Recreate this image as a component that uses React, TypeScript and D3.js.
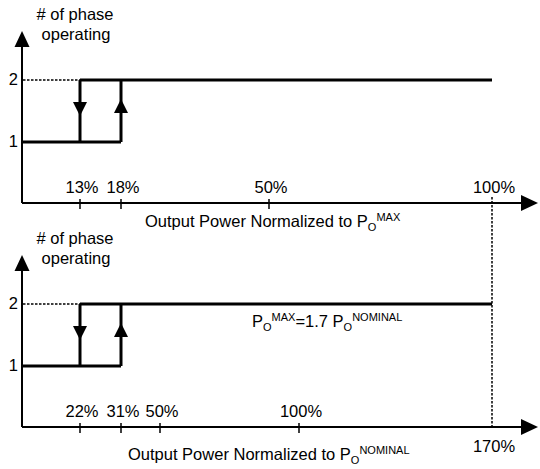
import React from "react";
import * as d3 from "d3";

// ---- data ----
const phaseLevels = [1, 2];
const topTickValues = [13, 18, 50, 100];
const topTickLabels = ["13%", "18%", "50%", "100%"];
const topThresholds = [13, 18]; // [down (2->1), up (1->2)]
const topMax = 100;

const bottomTickValues = [22, 31, 50, 100, 170];
const bottomTickLabels = ["22%", "31%", "50%", "100%", "170%"];
const bottomThresholds = [22, 31];
const bottomMax = 170;

// schematic (non-uniform) axis breakpoints: value domain -> pixel range
const topDomain = [0, 13, 18, 50, 100];
const bottomDomain = [0, 22, 31, 50, 100, 170];
const axisStops = [22, 80, 121, 269, 492];
const axisStopsBottom = [22, 80, 121, 160, 299, 492];

const W = 540;
const H = 469;
const FONT = "'Liberation Sans', Arial, Helvetica, sans-serif";
const FS = 16.5;
const SFS = 11;

function Panel({
  offsetY,
  x,
  ticks,
  labels,
  thresholds,
  max,
  labelBelowLast,
  titleX,
  titleBaseline,
  sup,
}: any) {
  const y = d3.scaleLinear().domain([1, 2]).range([142 + offsetY, 80 + offsetY]);
  const axisY = 203 + offsetY;
  const x0 = x(0);
  const [down, up] = thresholds;
  const arrowW = 7;
  const arrowH = 14;
  const downMid = (y(1) + y(2)) / 2 - 2;
  const upMid = (y(1) + y(2)) / 2 - 5;
  return (
    <g>
      {/* y axis */}
      <line x1={x0} x2={x0} y1={axisY} y2={45 + offsetY} stroke="#000" strokeWidth={2} />
      <path d={`M${x0},${31 + offsetY}L${x0 - 7.5},${47 + offsetY}L${x0 + 7.5},${47 + offsetY}Z`} fill="#000" />
      {/* x axis */}
      <line x1={x0} x2={524} y1={axisY} y2={axisY} stroke="#000" strokeWidth={2} />
      <path d={`M538,${axisY}L521,${axisY - 8}L521,${axisY + 8}Z`} fill="#000" />
      {/* y labels */}
      <text x={75} y={20 + offsetY} textAnchor="middle" fontSize={FS} fontFamily={FONT}>
        # of phase
      </text>
      <text x={76} y={40 + offsetY} textAnchor="middle" fontSize={FS} fontFamily={FONT}>
        operating
      </text>
      {phaseLevels.map((l) => (
        <text key={l} x={18} y={y(l) + 5} textAnchor="end" fontSize={FS} fontFamily={FONT}>
          {l}
        </text>
      ))}
      {/* dotted guide at level 2 */}
      <line x1={x0 + 1} x2={x(down)} y1={y(2)} y2={y(2)} stroke="#000" strokeWidth={1.3} strokeDasharray="2.5,1.5" />
      {/* ticks */}
      {ticks.map((t: number, i: number) => (
        <g key={t}>
          {t !== max && (
            <line x1={x(t)} x2={x(t)} y1={axisY - 4} y2={axisY + 6} stroke="#000" strokeWidth={1.5} />
          )}
          <text
            x={x(t) + 2}
            y={labelBelowLast && t === max ? axisY + 25 : axisY - 10}
            textAnchor="middle"
            fontSize={FS}
            fontFamily={FONT}
          >
            {labels[i]}
          </text>
        </g>
      ))}
      {/* step hysteresis */}
      <line x1={x0} x2={x(up)} y1={y(1)} y2={y(1)} stroke="#000" strokeWidth={3} />
      <line x1={x(down)} x2={x(max)} y1={y(2)} y2={y(2)} stroke="#000" strokeWidth={3} />
      <line x1={x(down)} x2={x(down)} y1={y(2)} y2={y(1)} stroke="#000" strokeWidth={3} />
      <line x1={x(up)} x2={x(up)} y1={y(2)} y2={y(1)} stroke="#000" strokeWidth={3} />
      <path
        d={`M${x(down) - arrowW},${downMid - arrowH / 2}L${x(down) + arrowW},${downMid - arrowH / 2}L${x(down)},${downMid + arrowH / 2}Z`}
        fill="#000"
      />
      <path
        d={`M${x(up) - arrowW},${upMid + arrowH / 2}L${x(up) + arrowW},${upMid + arrowH / 2}L${x(up)},${upMid - arrowH / 2}Z`}
        fill="#000"
      />
      {/* title */}
      <text x={titleX} y={titleBaseline} fontSize={FS} fontFamily={FONT}>
        <tspan>Output Power Normalized to P</tspan>
        <tspan fontSize={SFS} dy={4}>O</tspan>
        <tspan fontSize={SFS} dy={-10}>{sup}</tspan>
      </text>
    </g>
  );
}

export default function App() {
  const xTop = d3.scaleLinear().domain(topDomain).range(axisStops);
  const xBottom = d3.scaleLinear().domain(bottomDomain).range(axisStopsBottom);
  return (
    <svg
      width={W}
      height={H}
      style={{ position: "absolute", left: 0, top: 0, background: "#fff" }}
    >
      <rect width={W} height={H} fill="#fff" />
      <Panel
        offsetY={0}
        x={xTop}
        ticks={topTickValues}
        labels={topTickLabels}
        thresholds={topThresholds}
        max={topMax}
        labelBelowLast={false}
        titleX={145}
        titleBaseline={227}
        sup="MAX"
      />
      <Panel
        offsetY={224}
        x={xBottom}
        ticks={bottomTickValues}
        labels={bottomTickLabels}
        thresholds={bottomThresholds}
        max={bottomMax}
        labelBelowLast={true}
        titleX={128}
        titleBaseline={460}
        sup="NOMINAL"
      />
      {/* dotted link between 100% (top) and 170% (bottom) */}
      <line
        x1={xTop(topMax)}
        x2={xBottom(bottomMax)}
        y1={197}
        y2={427}
        stroke="#000"
        strokeWidth={1.5}
        strokeDasharray="2.5,1.5"
      />
      {/* annotation */}
      <text x={252} y={327} fontSize={FS} fontFamily={FONT}>
        <tspan>P</tspan>
        <tspan fontSize={SFS} dy={4}>O</tspan>
        <tspan fontSize={SFS} dy={-10}>MAX</tspan>
        <tspan fontSize={FS} dy={6}>=1.7 P</tspan>
        <tspan fontSize={SFS} dy={4}>O</tspan>
        <tspan fontSize={SFS} dy={-10}>NOMINAL</tspan>
      </text>
    </svg>
  );
}
